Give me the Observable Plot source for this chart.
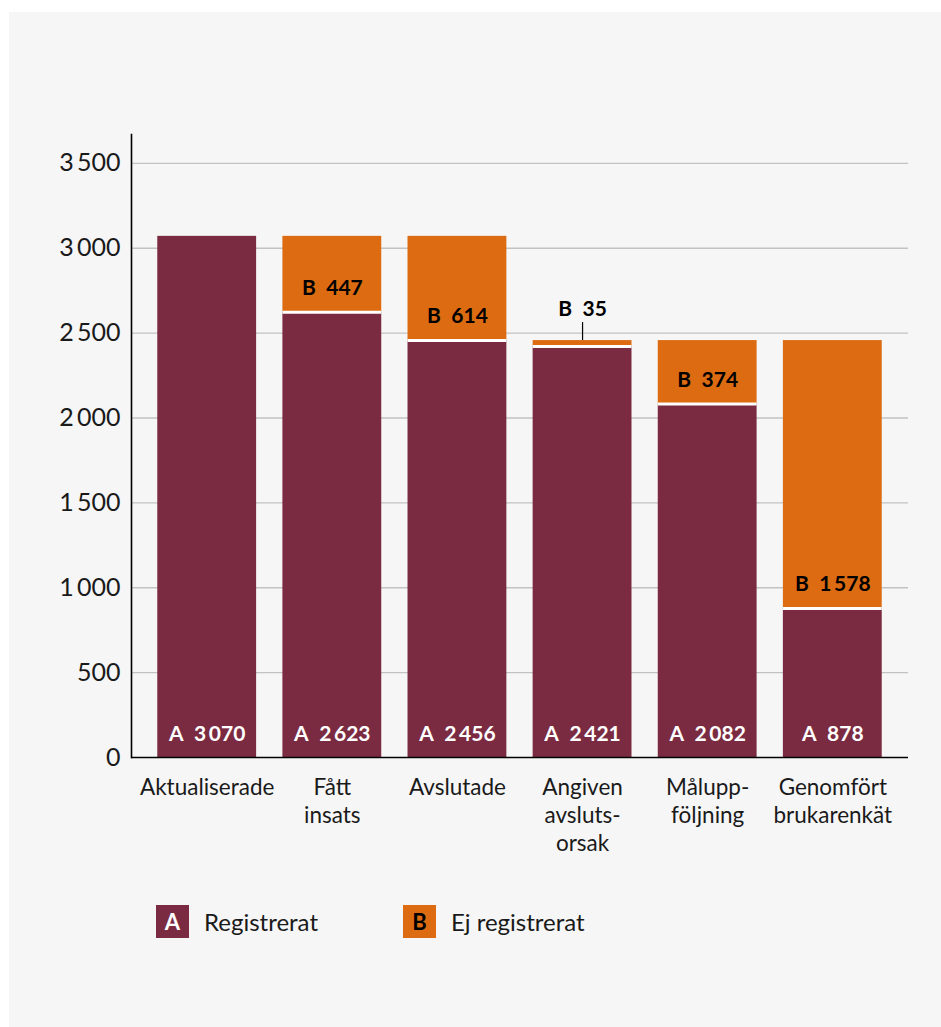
<!DOCTYPE html>
<html>
<head>
<meta charset="utf-8">
<script src="https://cdn.jsdelivr.net/npm/d3@7"></script>
<script src="https://cdn.jsdelivr.net/npm/@observablehq/plot@0.6"></script>
<style>
  html, body { margin: 0; padding: 0; background: #ffffff; }
  body { width: 941px; height: 1027px; position: relative; overflow: hidden; font-family: Lato, "Open Sans", sans-serif; }
  #panel { position: absolute; left: 9px; top: 12px; right: 0; bottom: 0; background: #f6f6f6; }
  #chart { position: absolute; left: 0; top: 0; }
  #chart svg { background: none; overflow: visible; }
  .legend { position: absolute; top: 905px; display: flex; align-items: center; font-size: 24px; color: #1a1a1a; }
  .legend .sw { width: 33px; height: 33px; display: flex; align-items: center; justify-content: center; font-weight: 700; font-size: 22px; margin-right: 15px; }
</style>
</head>
<body>
<div id="panel"></div>
<div id="chart"></div>
<div class="legend" style="left:156px"><div class="sw" style="background:#7b2b41;color:#fff">A</div>Registrerat</div>
<div class="legend" style="left:403px"><div class="sw" style="background:#dc6b12;color:#000">B</div>Ej registrerat</div>
<script>
const categories = ["Aktualiserade", "Fått\ninsats", "Avslutade", "Angiven\navsluts-\norsak", "Målupp-\nföljning", "Genomfört\nbrukarenkät"];
const registrerat = [3070, 2623, 2456, 2421, 2082, 878];
const ejRegistrerat = [0, 447, 614, 35, 374, 1578];
const yTicks = [0, 500, 1000, 1500, 2000, 2500, 3000, 3500];

const maroon = "#7b2b41";
const orange = "#dc6b12";

const fmt = d3.formatLocale({decimal: ",", thousands: "\u2009", grouping: [3], currency: ["", " kr"]}).format(",d");

const rows = categories.map((c, i) => ({
  cat: c,
  a: registrerat[i],
  b: ejRegistrerat[i],
  total: registrerat[i] + ejRegistrerat[i]
}));
const withB = rows.filter(d => d.b > 0);
const bigB = withB.filter(d => d.b >= 100);
const smallB = withB.filter(d => d.b < 100);

const chart = Plot.plot({
  width: 941,
  height: 880,
  marginLeft: 131,
  marginRight: 33,
  marginTop: 134,
  marginBottom: 123,
  style: {fontFamily: "Lato, 'Open Sans', sans-serif", background: "none"},
  x: {domain: categories, padding: 0.21, label: null, round: false},
  y: {domain: [0, 3670], label: null},
  marks: [
    Plot.gridY(yTicks.filter(t => t > 0), {stroke: "#c2c2c2", strokeOpacity: 1, strokeWidth: 1.4}),
    Plot.barY(rows, {x: "cat", y1: 0, y2: "a", fill: maroon}),
    Plot.barY(withB, {x: "cat", y1: "a", y2: "total", fill: orange}),
    Plot.tickY(withB, {x: "cat", y: "a", stroke: "#ffffff", strokeWidth: 3}),
    Plot.text(rows, {x: "cat", y: 0, dy: -23, text: d => "A\u2002" + fmt(d.a), fill: "#ffffff", fontWeight: 700, fontSize: 21}),
    Plot.text(bigB, {x: "cat", y: "a", dy: -24, text: d => "B\u2002" + fmt(d.b), fill: "#000000", fontWeight: 700, fontSize: 21}),
    Plot.text(smallB, {x: "cat", y: "total", dy: -31, text: d => "B\u2002" + fmt(d.b), fill: "#000000", fontWeight: 700, fontSize: 21}),
    Plot.ruleX(smallB, {x: "cat", y1: "total", y2: "total", insetTop: -18, insetBottom: 0, stroke: "#000", strokeWidth: 1.2}),
    Plot.axisY(yTicks, {tickSize: 0, tickPadding: 11, fontSize: 25, fontWeight: 400, tickFormat: fmt, fill: "#1a1a1a"}),
    Plot.axisX({tickSize: 0, tickPadding: 18, fontSize: 22.5, fontWeight: 400, lineHeight: 1.24, fill: "#1a1a1a"}),
    Plot.ruleY([0], {stroke: "#000", strokeWidth: 1.6}),
    Plot.frame({anchor: "left", stroke: "#000", strokeWidth: 1.6})
  ]
});
document.getElementById("chart").appendChild(chart);
</script>
</body>
</html>
